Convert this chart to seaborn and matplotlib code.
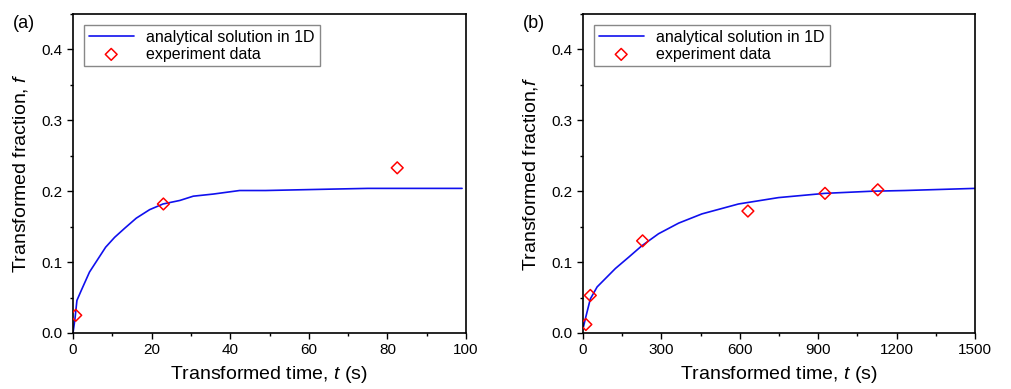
import matplotlib
matplotlib.use("Agg")
import matplotlib.pyplot as plt
import seaborn as sns
import pandas as pd
from matplotlib.ticker import MultipleLocator

# panel (a): short time range
t_model_a = [0, 0.5, 1, 2.1, 4.2, 8.3, 10.6, 13.2, 16.1, 19.5, 22.9, 27.2, 30.6,
             35.7, 42.4, 49, 66, 75, 99]
f_model_a = [0, 0.02, 0.046, 0.06, 0.086, 0.121, 0.135, 0.148, 0.162, 0.174, 0.182,
             0.187, 0.193, 0.196, 0.201, 0.201, 0.203, 0.204, 0.204]
t_exp_a = [0.7, 23, 82.5]
f_exp_a = [0.025, 0.182, 0.233]

# panel (b): long time range
t_model_b = [0, 9, 28, 54, 124, 175, 225, 289, 366, 455, 595, 748, 926, 1105, 1232, 1500]
f_model_b = [0.006, 0.02, 0.048, 0.065, 0.091, 0.107, 0.123, 0.140, 0.155, 0.168,
             0.182, 0.191, 0.197, 0.200, 0.201, 0.204]
t_exp_b = [11, 28, 228, 631, 926, 1128]
f_exp_b = [0.012, 0.053, 0.130, 0.172, 0.197, 0.202]

sns.set_style("ticks")
plt.rcParams['font.family'] = ['Liberation Sans', 'DejaVu Sans']
plt.rcParams['mathtext.fontset'] = 'custom'
plt.rcParams['mathtext.it'] = 'Liberation Sans:italic'
plt.rcParams['mathtext.rm'] = 'Liberation Sans'
for k in ['text.color', 'axes.labelcolor', 'xtick.color', 'ytick.color', 'axes.edgecolor']:
    plt.rcParams[k] = 'black'

fig = plt.figure(figsize=(10.12, 3.89), dpi=100)
ax_a = fig.add_axes([73 / 1012, 1 - 333 / 389, 393 / 1012, 319 / 389])
ax_b = fig.add_axes([583 / 1012, 1 - 333 / 389, 392 / 1012, 319 / 389])

panels = [
    (ax_a, t_model_a, f_model_a, t_exp_a, f_exp_a, 100, 20, 10, "(a)",
     "Transformed fraction, $f$"),
    (ax_b, t_model_b, f_model_b, t_exp_b, f_exp_b, 1500, 300, 150, "(b)",
     "Transformed fraction,$f$"),
]

for ax, tm, fm, te, fe, xmax, major, minor, tag, ylab in panels:
    model = pd.DataFrame({"t": tm, "f": fm})
    exp = pd.DataFrame({"t": te, "f": fe})
    sns.lineplot(data=model, x="t", y="f", ax=ax, color="#1010ee", lw=1.2,
                 label="analytical solution in 1D")
    sns.scatterplot(data=exp, x="t", y="f", ax=ax, marker="D", s=36,
                    facecolor="none", edgecolor="red", linewidth=1.1,
                    label="experiment data", zorder=3)
    ax.set_xlim(0, xmax)
    ax.set_ylim(0, 0.45)
    ax.xaxis.set_major_locator(MultipleLocator(major))
    ax.xaxis.set_minor_locator(MultipleLocator(minor))
    ax.yaxis.set_major_locator(MultipleLocator(0.1))
    ax.yaxis.set_minor_locator(MultipleLocator(0.05))
    ax.yaxis.set_major_formatter(matplotlib.ticker.FormatStrFormatter("%.1f"))
    ax.tick_params(which="major", direction="out", length=4, width=1, labelsize=11)
    ax.tick_params(which="minor", direction="out", length=2.5, width=1)
    for sp in ax.spines.values():
        sp.set_linewidth(1.2)
        sp.set_visible(True)
    ax.set_xlabel("Transformed time, $t$ (s)", fontsize=14, labelpad=5)
    ax.set_ylabel(ylab, fontsize=14, labelpad=8)
    leg = ax.legend(loc="upper left", bbox_to_anchor=(0.02, 0.975), fontsize=11.5,
                    fancybox=False, framealpha=1, edgecolor="#888888",
                    borderpad=0.3, labelspacing=0.1, handlelength=2.8,
                    borderaxespad=0.2)
    leg.get_frame().set_linewidth(1.0)
    fig.text(ax.get_position().x0 - 60 / 1012, 1 - 23 / 389, tag, fontsize=13,
             va="center", ha="left")

fig.savefig("out.png", dpi=100)
